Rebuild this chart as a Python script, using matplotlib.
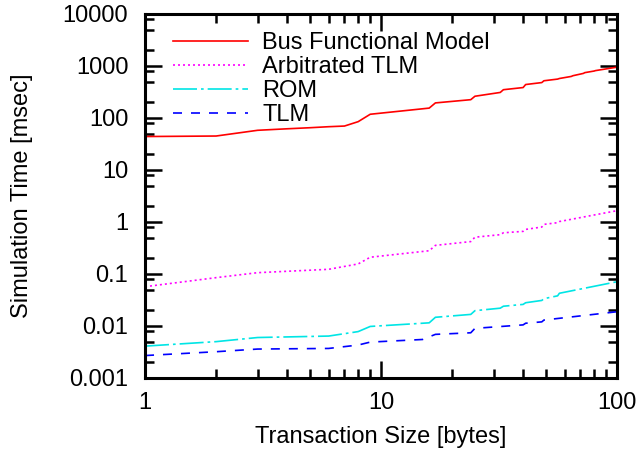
import matplotlib
matplotlib.use('Agg')
import matplotlib.pyplot as plt
from matplotlib.ticker import LogLocator, NullFormatter, FixedLocator, FixedFormatter

plt.rcParams['font.family'] = ['Liberation Sans', 'DejaVu Sans']

# Bus Functional Model
bfm_x = [1, 2, 3, 4, 5, 6, 7, 8, 9, 16, 17, 24, 25, 32, 33, 40, 41, 48, 49, 56, 57, 64, 65, 72, 73, 80, 81, 100]
bfm_y = [44, 45, 58, 62, 65, 68, 70, 85, 118, 155, 195, 225, 262, 310, 350, 385, 440, 480, 520, 560, 575, 630, 650, 720, 745, 800, 815, 950]

# Arbitrated TLM
arb_x = [1, 2, 3, 6, 8, 9, 16, 17, 24, 25, 32, 33, 40, 41, 48, 49, 56, 57, 100]
arb_y = [0.057, 0.085, 0.106, 0.123, 0.156, 0.21, 0.28, 0.355, 0.42, 0.51, 0.57, 0.62, 0.66, 0.72, 0.80, 0.90, 0.97, 1.02, 1.65]

# ROM
rom_x = [1, 2, 3, 6, 8, 9, 16, 17, 24, 25, 32, 33, 40, 41, 48, 49, 56, 57, 100]
rom_y = [0.0041, 0.0050, 0.0060, 0.0064, 0.0078, 0.0098, 0.0115, 0.0147, 0.0167, 0.0197, 0.022, 0.024, 0.026, 0.028, 0.031, 0.0335, 0.038, 0.0426, 0.071]

# TLM
tlm_x = [1, 2, 3, 6, 8, 9, 15, 17, 24, 25, 40, 41, 48, 49, 100]
tlm_y = [0.0027, 0.0032, 0.0036, 0.0037, 0.0043, 0.0049, 0.0055, 0.0069, 0.0074, 0.0090, 0.0105, 0.0113, 0.0120, 0.0130, 0.0188]

fs = 17

fig = plt.figure(figsize=(6.42, 4.53), dpi=100)
ax = fig.add_axes([0.2259, 0.1656, 0.7352, 0.8035])

ax.plot(bfm_x, bfm_y, color='#ff0000', lw=1.2, label='Bus Functional Model')
ax.plot(arb_x, arb_y, color='#ff00ff', lw=1.2, dashes=(1.2, 1.8), label='Arbitrated TLM')
ax.plot(rom_x, rom_y, color='#00e5e5', lw=1.2, dashes=(14.4, 2.4, 1.6, 2.4), label='ROM')
ax.plot(tlm_x, tlm_y, color='#0000ff', lw=1.2, dashes=(5.4, 5.4), label='TLM')

ax.set_xscale('log')
ax.set_yscale('log')
ax.set_xlim(1, 100)
ax.set_ylim(0.001, 10000)

ax.xaxis.set_major_locator(FixedLocator([1, 10, 100]))
ax.xaxis.set_major_formatter(FixedFormatter(['1', '10', '100']))
ax.xaxis.set_minor_locator(LogLocator(base=10, subs=range(2, 10)))
ax.xaxis.set_minor_formatter(NullFormatter())

yt = [0.001, 0.01, 0.1, 1, 10, 100, 1000, 10000]
ax.yaxis.set_major_locator(FixedLocator(yt))
ax.yaxis.set_major_formatter(FixedFormatter(['0.001', '0.01', '0.1', '1', '10', '100', '1000', '10000']))
ax.yaxis.set_minor_locator(LogLocator(base=10, subs=(2, 5, 8)))
ax.yaxis.set_minor_formatter(NullFormatter())

ax.tick_params(which='both', direction='in', top=True, right=True, labelsize=fs, width=1.8, color='black')
ax.tick_params(which='major', length=12)
ax.tick_params(which='minor', length=6.5)
ax.tick_params(axis='x', which='major', pad=10)
ax.tick_params(axis='y', which='major', pad=12)
for s in ax.spines.values():
    s.set_linewidth(2.2)

ax.set_xlabel('Transaction Size [bytes]', fontsize=fs)
ax.set_ylabel('Simulation Time [msec]', fontsize=fs)
ax.xaxis.set_label_coords(0.5, -0.132)
ax.yaxis.set_label_coords(-0.237, 0.5)

ax.legend(loc='upper left', frameon=False, fontsize=fs, handlelength=3.2,
          handletextpad=0.6, labelspacing=0.08, borderpad=0, borderaxespad=0,
          bbox_to_anchor=(0.0587, 0.95))

fig.savefig('out.png', dpi=100)
